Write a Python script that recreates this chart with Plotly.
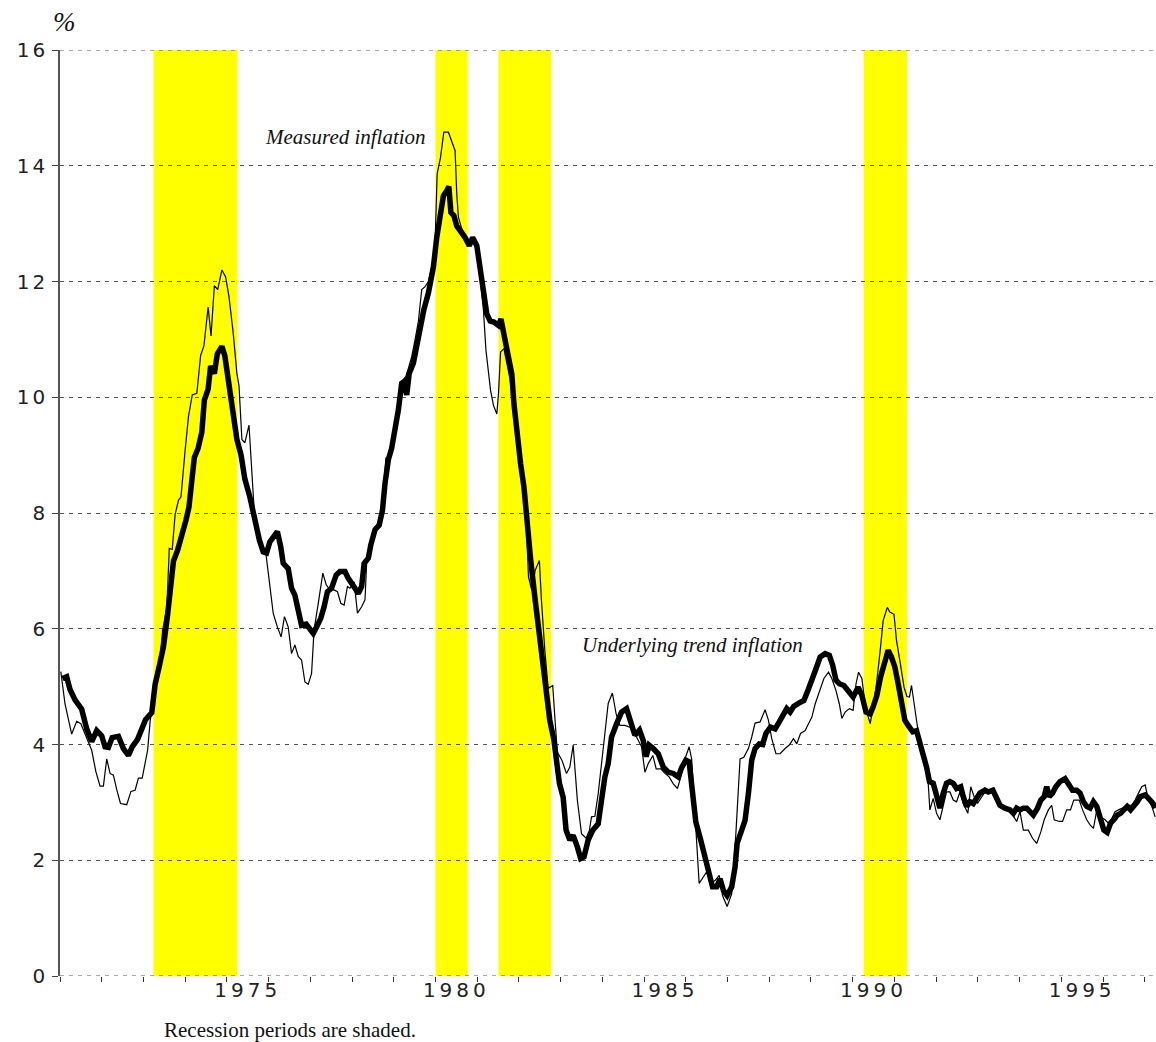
import plotly.graph_objects as go

# ---------------- data ----------------
trend_years = [
    1971.06, 1971.16, 1971.24, 1971.36, 1971.52, 1971.64, 1971.76, 1971.88, 1972.00, 1972.08,
    1972.16, 1972.25, 1972.40, 1972.52, 1972.64, 1972.73, 1972.86, 1972.97, 1973.05, 1973.20,
    1973.28, 1973.37, 1973.48, 1973.58, 1973.66, 1973.72, 1973.82, 1973.92, 1974.02, 1974.09,
    1974.16, 1974.22, 1974.31, 1974.40, 1974.46, 1974.55, 1974.61, 1974.70, 1974.77, 1974.88,
    1974.95, 1975.03, 1975.13, 1975.24, 1975.34, 1975.43, 1975.55, 1975.67, 1975.78, 1975.87,
    1975.95, 1976.03, 1976.13, 1976.21, 1976.29, 1976.35, 1976.47, 1976.55, 1976.63, 1976.71,
    1976.79, 1976.90, 1976.98, 1977.07, 1977.15, 1977.25, 1977.33, 1977.41, 1977.51, 1977.62,
    1977.71, 1977.83, 1977.91, 1977.99, 1978.07, 1978.15, 1978.23, 1978.29, 1978.39, 1978.45,
    1978.55, 1978.65, 1978.73, 1978.79, 1978.87, 1978.95, 1979.03, 1979.11, 1979.19, 1979.25,
    1979.31, 1979.37, 1979.47, 1979.55, 1979.63, 1979.72, 1979.83, 1979.87, 1979.95, 1980.03,
    1980.11, 1980.19, 1980.27, 1980.32, 1980.37, 1980.44, 1980.51, 1980.60, 1980.71, 1980.81,
    1980.89, 1980.99, 1981.07, 1981.15, 1981.23, 1981.31, 1981.40, 1981.51, 1981.57, 1981.64,
    1981.72, 1981.83, 1981.88, 1981.96, 1982.04, 1982.12, 1982.19, 1982.28, 1982.39, 1982.49,
    1982.58, 1982.67, 1982.74, 1982.84, 1982.90, 1982.97, 1983.06, 1983.13, 1983.22, 1983.30,
    1983.40, 1983.48, 1983.56, 1983.66, 1983.77, 1983.90, 1983.98, 1984.06, 1984.14, 1984.22,
    1984.34, 1984.46, 1984.58, 1984.68, 1984.78, 1984.89, 1984.98, 1985.05, 1985.12, 1985.22,
    1985.34, 1985.46, 1985.58, 1985.70, 1985.82, 1985.90, 1986.00, 1986.08, 1986.16, 1986.24,
    1986.34, 1986.44, 1986.54, 1986.64, 1986.74, 1986.82, 1986.90, 1986.99, 1987.10, 1987.18,
    1987.23, 1987.32, 1987.42, 1987.50, 1987.58, 1987.66, 1987.76, 1987.84, 1987.92, 1988.03,
    1988.14, 1988.24, 1988.34, 1988.42, 1988.50, 1988.59, 1988.72, 1988.83, 1988.94, 1989.02,
    1989.12, 1989.22, 1989.34, 1989.44, 1989.52, 1989.60, 1989.68, 1989.79, 1989.89, 1990.01,
    1990.13, 1990.22, 1990.32, 1990.42, 1990.49, 1990.58, 1990.67, 1990.77, 1990.85, 1990.93,
    1991.01, 1991.09, 1991.17, 1991.25, 1991.33, 1991.44, 1991.53, 1991.61, 1991.69, 1991.77,
    1991.84, 1991.93, 1992.01, 1992.09, 1992.17, 1992.25, 1992.33, 1992.41, 1992.49, 1992.59,
    1992.65, 1992.73, 1992.81, 1992.89, 1992.97, 1993.05, 1993.17, 1993.25, 1993.36, 1993.45,
    1993.53, 1993.65, 1993.77, 1993.85, 1993.93, 1994.01, 1994.09, 1994.17, 1994.25, 1994.33,
    1994.43, 1994.51, 1994.59, 1994.65, 1994.71, 1994.79, 1994.87, 1994.97, 1995.09, 1995.17,
    1995.27, 1995.37, 1995.45, 1995.53, 1995.61, 1995.69, 1995.77, 1995.85, 1995.93, 1996.02,
    1996.10, 1996.18, 1996.26, 1996.34, 1996.42, 1996.50, 1996.58, 1996.66, 1996.74, 1996.82,
    1996.90, 1997.01, 1997.09, 1997.20, 1997.25,
]
trend_values = [
    5.14, 5.17, 4.95, 4.77, 4.61, 4.27, 4.05, 4.24, 4.15, 3.96,
    3.95, 4.12, 4.14, 3.93, 3.81, 3.96, 4.09, 4.33, 4.43, 4.55,
    5.04, 5.32, 5.69, 6.25, 6.68, 7.17, 7.36, 7.60, 7.88, 8.10,
    8.47, 8.96, 9.12, 9.40, 9.95, 10.14, 10.54, 10.41, 10.75, 10.88,
    10.72, 10.32, 9.89, 9.27, 9.00, 8.59, 8.28, 7.87, 7.53, 7.33,
    7.31, 7.50, 7.59, 7.68, 7.42, 7.13, 7.04, 6.70, 6.58, 6.32,
    6.06, 6.08, 6.01, 5.92, 6.03, 6.18, 6.38, 6.64, 6.70, 6.93,
    6.99, 6.99, 6.87, 6.76, 6.70, 6.61, 6.73, 7.13, 7.22, 7.45,
    7.71, 7.79, 8.05, 8.51, 8.92, 9.12, 9.44, 9.78, 10.24, 10.27,
    10.04, 10.41, 10.59, 10.88, 11.22, 11.51, 11.80, 11.96, 12.25, 12.76,
    13.17, 13.48, 13.57, 13.64, 13.19, 13.14, 12.96, 12.88, 12.76, 12.62,
    12.76, 12.62, 12.19, 11.78, 11.44, 11.32, 11.30, 11.24, 11.35, 11.09,
    10.81, 10.40, 9.89, 9.31, 8.85, 8.45, 7.85, 7.20, 6.49, 5.92,
    5.34, 4.88, 4.42, 4.07, 3.67, 3.33, 3.09, 2.52, 2.35, 2.43,
    2.23, 2.03, 2.06, 2.35, 2.52, 2.63, 3.04, 3.44, 3.67, 4.13,
    4.36, 4.56, 4.62, 4.39, 4.16, 4.25, 4.07, 3.79, 3.99, 3.93,
    3.84, 3.61, 3.52, 3.50, 3.44, 3.60, 3.73, 3.70, 3.15, 2.66,
    2.40, 2.11, 1.83, 1.54, 1.54, 1.68, 1.48, 1.39, 1.54, 1.88,
    2.29, 2.52, 2.69, 3.15, 3.73, 3.93, 4.01, 4.00, 4.19, 4.30,
    4.27, 4.39, 4.50, 4.62, 4.56, 4.66, 4.72, 4.76, 4.96, 5.14,
    5.31, 5.51, 5.57, 5.54, 5.37, 5.11, 5.05, 5.02, 4.91, 4.82,
    4.99, 4.85, 4.56, 4.53, 4.65, 4.85, 5.17, 5.45, 5.63, 5.51,
    5.34, 5.05, 4.71, 4.42, 4.33, 4.22, 4.24, 4.04, 3.76, 3.61,
    3.36, 3.33, 3.12, 2.90, 3.16, 3.33, 3.36, 3.33, 3.24, 3.27,
    3.10, 2.93, 3.01, 2.98, 3.07, 3.16, 3.21, 3.18, 3.21, 3.07,
    2.95, 2.90, 2.87, 2.81, 2.90, 2.87, 2.90, 2.90, 2.84, 2.78,
    2.90, 3.04, 3.10, 3.27, 3.10, 3.16, 3.27, 3.36, 3.41, 3.30,
    3.21, 3.21, 3.16, 3.01, 2.93, 2.90, 3.01, 2.93, 2.70, 2.52,
    2.48, 2.64, 2.70, 2.78, 2.81, 2.87, 2.93, 2.87, 2.93, 3.01,
    3.10, 3.13, 3.07, 2.98, 2.90,
]

measured_years = [
    1971.02, 1971.12, 1971.28, 1971.40, 1971.50, 1971.64, 1971.76, 1971.86, 1971.96, 1972.04,
    1972.12, 1972.20, 1972.28, 1972.36, 1972.45, 1972.60, 1972.70, 1972.80, 1972.88, 1972.97,
    1973.10, 1973.16, 1973.24, 1973.32, 1973.40, 1973.46, 1973.56, 1973.62, 1973.69, 1973.76,
    1973.84, 1973.90, 1974.00, 1974.08, 1974.17, 1974.28, 1974.37, 1974.45, 1974.55, 1974.62,
    1974.70, 1974.78, 1974.88, 1974.97, 1975.05, 1975.15, 1975.24, 1975.29, 1975.36, 1975.43,
    1975.53, 1975.59, 1975.66, 1975.71, 1975.83, 1975.94, 1976.02, 1976.11, 1976.21, 1976.30,
    1976.38, 1976.47, 1976.55, 1976.63, 1976.71, 1976.79, 1976.87, 1976.95, 1977.03, 1977.09,
    1977.19, 1977.30, 1977.38, 1977.47, 1977.57, 1977.65, 1977.73, 1977.81, 1977.89, 1977.95,
    1978.05, 1978.13, 1978.23, 1978.31, 1978.35, 1978.45, 1978.55, 1978.67, 1978.75, 1978.81,
    1978.91, 1979.01, 1979.11, 1979.19, 1979.29, 1979.35, 1979.43, 1979.51, 1979.59, 1979.67,
    1979.75, 1979.83, 1979.93, 1979.99, 1980.04, 1980.12, 1980.20, 1980.31, 1980.39, 1980.47,
    1980.51, 1980.55, 1980.63, 1980.75, 1980.83, 1980.91, 1980.99, 1981.07, 1981.15, 1981.21,
    1981.27, 1981.32, 1981.39, 1981.47, 1981.51, 1981.56, 1981.64, 1981.71, 1981.79, 1981.91,
    1982.03, 1982.15, 1982.23, 1982.31, 1982.39, 1982.49, 1982.54, 1982.62, 1982.70, 1982.81,
    1982.86, 1982.92, 1983.03, 1983.14, 1983.22, 1983.30, 1983.40, 1983.50, 1983.61, 1983.69,
    1983.74, 1983.82, 1983.90, 1983.98, 1984.06, 1984.14, 1984.24, 1984.33, 1984.42, 1984.54,
    1984.66, 1984.74, 1984.82, 1984.94, 1985.02, 1985.10, 1985.21, 1985.29, 1985.40, 1985.50,
    1985.60, 1985.70, 1985.80, 1985.88, 1985.98, 1986.08, 1986.14, 1986.22, 1986.32, 1986.42,
    1986.50, 1986.60, 1986.70, 1986.80, 1986.88, 1986.99, 1987.10, 1987.20, 1987.30, 1987.39,
    1987.50, 1987.58, 1987.66, 1987.78, 1987.90, 1987.98, 1988.06, 1988.16, 1988.26, 1988.38,
    1988.48, 1988.58, 1988.66, 1988.75, 1988.86, 1988.94, 1989.02, 1989.10, 1989.20, 1989.31,
    1989.42, 1989.50, 1989.60, 1989.68, 1989.74, 1989.82, 1989.92, 1990.01, 1990.08, 1990.14,
    1990.22, 1990.30, 1990.35, 1990.42, 1990.49, 1990.58, 1990.66, 1990.73, 1990.83, 1990.89,
    1990.99, 1991.05, 1991.13, 1991.23, 1991.30, 1991.36, 1991.41, 1991.49, 1991.57, 1991.65,
    1991.73, 1991.81, 1991.85, 1991.93, 1992.01, 1992.09, 1992.17, 1992.25, 1992.33, 1992.41,
    1992.49, 1992.57, 1992.65, 1992.76, 1992.83, 1992.91, 1992.99, 1993.09, 1993.20, 1993.29,
    1993.37, 1993.47, 1993.55, 1993.65, 1993.75, 1993.84, 1993.93, 1994.01, 1994.09, 1994.21,
    1994.31, 1994.41, 1994.51, 1994.59, 1994.69, 1994.77, 1994.83, 1994.95, 1995.03, 1995.13,
    1995.22, 1995.30, 1995.43, 1995.51, 1995.61, 1995.69, 1995.77, 1995.86, 1995.94, 1996.05,
    1996.13, 1996.21, 1996.29, 1996.37, 1996.45, 1996.53, 1996.61, 1996.69, 1996.77, 1996.85,
    1996.93, 1997.01, 1997.09, 1997.17, 1997.25,
]
measured_values = [
    5.26, 4.70, 4.18, 4.40, 4.36, 4.12, 3.90, 3.53, 3.28, 3.28,
    3.75, 3.50, 3.47, 3.22, 2.98, 2.96, 3.19, 3.21, 3.42, 3.42,
    3.90, 4.40, 4.86, 5.32, 5.51, 5.97, 6.37, 7.39, 7.37, 7.98,
    8.22, 8.28, 9.09, 9.67, 10.04, 10.07, 10.72, 10.89, 11.56, 11.06,
    11.93, 11.86, 12.20, 12.08, 11.74, 11.12, 10.41, 10.20, 9.27, 9.21,
    9.52, 8.72, 7.98, 7.82, 7.48, 7.27, 6.84, 6.27, 6.03, 5.86,
    6.21, 6.03, 5.57, 5.72, 5.52, 5.46, 5.08, 5.04, 5.23, 5.98,
    6.44, 6.96, 6.76, 6.67, 6.67, 6.64, 6.44, 6.41, 6.73, 6.70,
    6.81, 6.27, 6.38, 6.50, 7.13, 7.42, 7.71, 7.82, 8.28, 8.95,
    9.00, 9.32, 9.95, 10.27, 10.36, 10.50, 10.70, 10.99, 11.31, 11.86,
    11.91, 12.00, 12.32, 12.66, 13.86, 14.14, 14.58, 14.58, 14.43, 14.26,
    13.51, 13.11, 12.91, 12.76, 12.65, 12.71, 12.53, 12.07, 11.50, 10.81,
    10.40, 10.12, 9.86, 9.71, 10.06, 10.78, 10.84, 10.58, 10.30, 9.60,
    8.90, 8.22, 6.89, 6.66, 7.01, 7.18, 6.49, 5.63, 4.97, 5.02,
    4.48, 3.87, 3.73, 3.50, 3.61, 3.99, 3.04, 2.46, 2.38, 2.52,
    2.75, 2.76, 3.15, 3.67, 4.25, 4.71, 4.89, 4.53, 4.33, 4.33,
    4.30, 4.19, 4.13, 3.96, 3.52, 3.67, 3.81, 3.58, 3.58, 3.50,
    3.44, 3.32, 3.24, 3.44, 3.75, 3.96, 3.75, 2.69, 1.60, 1.71,
    1.80, 1.60, 1.65, 1.74, 1.39, 1.20, 1.42, 2.46, 3.75, 3.78,
    3.93, 4.13, 4.37, 4.39, 4.60, 4.42, 4.10, 3.84, 3.84, 3.93,
    3.99, 4.10, 4.01, 4.19, 4.24, 4.36, 4.47, 4.70, 4.93, 5.14,
    5.25, 5.14, 4.93, 4.70, 4.45, 4.56, 4.62, 4.59, 5.05, 5.25,
    5.14, 4.68, 4.53, 4.36, 4.65, 5.11, 5.63, 6.14, 6.37, 6.29,
    6.25, 5.80, 5.45, 4.99, 4.83, 4.82, 5.02, 4.59, 4.22, 3.85,
    3.65, 3.33, 2.87, 3.07, 2.81, 2.70, 2.93, 3.18, 3.18, 3.04,
    3.01, 3.18, 2.98, 2.81, 3.27, 3.10, 2.98, 3.10, 3.21, 3.16,
    3.21, 3.04, 2.95, 2.87, 2.87, 2.78, 2.67, 2.84, 2.52, 2.52,
    2.38, 2.29, 2.49, 2.70, 2.87, 2.95, 2.70, 2.67, 2.67, 2.87,
    2.87, 3.04, 3.04, 2.87, 2.70, 2.61, 2.55, 2.90, 2.75, 2.70,
    2.64, 2.72, 2.84, 2.87, 2.90, 2.93, 2.95, 2.95, 3.04, 3.16,
    3.27, 3.30, 3.04, 2.93, 2.75,
]

recession_starts = [1973.24, 1980.00, 1981.51, 1990.26]
recession_ends = [1975.25, 1980.77, 1982.77, 1991.30]

year_ticks = list(range(1971, 1998))
label_years = [1975, 1980, 1985, 1990, 1995]
y_ticks = [0, 2, 4, 6, 8, 10, 12, 14, 16]
y_min, y_max = 0, 16

GRID_DASH = "4px,5px"
GRID_COLOR = "#555"

# ---------------- figure ----------------
fig = go.Figure()

fig.add_trace(go.Scatter(
    x=measured_years, y=measured_values, mode="lines",
    line=dict(color="black", width=1.2), name="Measured inflation",
    hoverinfo="skip",
))
fig.add_trace(go.Scatter(
    x=trend_years, y=trend_values, mode="lines",
    line=dict(color="black", width=5.5), name="Underlying trend inflation",
    hoverinfo="skip",
))

for s, e in zip(recession_starts, recession_ends):
    fig.add_shape(type="rect", xref="x", yref="y", x0=s, x1=e, y0=y_min, y1=y_max,
                  fillcolor="#FFFF00", line=dict(width=0), layer="below")

# the gridlines at the range ends (plotly omits them at the plot edges)
for yv in (y_min, y_max):
    fig.add_shape(type="line", xref="paper", yref="y", x0=0, x1=1, y0=yv, y1=yv,
                  line=dict(color=GRID_COLOR, width=1, dash=GRID_DASH), layer="above")

fig.add_annotation(x=1977.85, y=14.49, xref="x", yref="y", text="<i>Measured inflation</i>",
                   showarrow=False, font=dict(family="Liberation Serif", size=21, color="#111"))
fig.add_annotation(x=1986.16, y=5.72, xref="x", yref="y", text="<i>Underlying trend inflation</i>",
                   showarrow=False, font=dict(family="Liberation Serif", size=21, color="#111"))
fig.add_annotation(x=0.093, y=-0.058, xref="paper", yref="paper", xanchor="left", yanchor="middle",
                   text="Recession periods are shaded.", showarrow=False,
                   font=dict(family="Liberation Serif", size=21, color="#111"))
fig.add_annotation(x=0.0042, y=1.0297, xref="paper", yref="paper", xanchor="center", yanchor="middle",
                   text="<i>%</i>", showarrow=False,
                   font=dict(family="Liberation Serif", size=27, color="#111"))

fig.update_layout(
    width=1156, height=1042,
    margin=dict(l=60, r=0, t=50, b=66),
    paper_bgcolor="white", plot_bgcolor="white",
    showlegend=False,
    font=dict(family="DejaVu Sans", color="#222"),
)

fig.update_xaxes(
    range=[1971.0, 1997.27],
    tickmode="array",
    tickvals=[y + 0.5 for y in label_years],
    ticktext=[str(y) for y in label_years],
    ticks="",
    tickfont=dict(family="DejaVu Sans", size=20, color="#222"),
    showgrid=False, zeroline=False, showline=False,
    minor=dict(tickmode="array", tickvals=year_ticks, ticks="outside", ticklen=5,
               tickcolor="#333", tickwidth=1, showgrid=False),
    fixedrange=True,
)
fig.update_yaxes(
    range=[y_min, y_max],
    tickmode="array", tickvals=y_ticks, ticktext=[str(v) for v in y_ticks],
    ticks="outside", ticklen=6, tickcolor="#444", tickwidth=1,
    tickfont=dict(family="DejaVu Sans", size=20, color="#222"),
    showgrid=True, gridcolor=GRID_COLOR, gridwidth=1, griddash=GRID_DASH,
    zeroline=False, showline=True, linecolor="#555", linewidth=1.5,
    fixedrange=True,
)

post = """
document.body.style.margin = '0';
document.body.style.overflow = 'hidden';
var gd = document.getElementById('{plot_id}');
function sp(){
  gd.querySelectorAll('.xtick text').forEach(function(t){t.style.letterSpacing='4px';});
  gd.querySelectorAll('.ytick text').forEach(function(t){t.style.letterSpacing='3px';});
}
sp();
gd.on('plotly_afterplot', sp);
"""

fig.write_html("out.html", post_script=post, config={"displayModeBar": False})
